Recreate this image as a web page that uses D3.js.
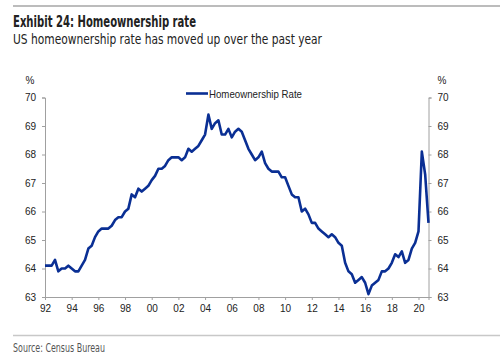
<!DOCTYPE html>
<html><head><meta charset="utf-8">
<script src="https://cdn.jsdelivr.net/npm/d3@7"></script>
<style>
body{margin:0;background:#fff;}
svg{display:block;}
.narrow{font-family:'Liberation Sans Narrow','Arial Narrow','DejaVu Sans Condensed',sans-serif;}
</style></head>
<body>
<svg id="c" width="500" height="357"></svg>
<script>
const startYear = 1992;
const rate = [
 64.1,64.1,64.1,64.3,
 63.9,64.0,64.0,64.1,
 64.0,63.9,63.9,64.1,
 64.3,64.7,64.8,65.1,
 65.3,65.4,65.4,65.4,
 65.5,65.7,65.8,65.8,
 66.0,66.1,66.6,66.5,
 66.8,66.7,66.8,66.9,
 67.1,67.25,67.5,67.5,
 67.6,67.8,67.9,67.9,
 67.9,67.8,67.9,68.2,
 68.1,68.2,68.3,68.5,
 68.7,69.4,68.9,69.1,
 69.2,68.7,68.7,68.9,
 68.6,68.8,68.9,68.8,
 68.5,68.2,68.0,67.8,
 67.9,68.1,67.7,67.5,
 67.4,67.4,67.4,67.2,
 67.2,66.9,66.6,66.5,
 66.5,66.0,66.1,65.9,
 65.6,65.6,65.4,65.3,
 65.2,65.1,65.2,65.1,
 64.9,64.8,64.2,63.9,
 63.8,63.5,63.6,63.7,
 63.5,63.1,63.4,63.5,
 63.6,63.9,63.9,64.0,
 64.2,64.5,64.4,64.6,
 64.2,64.3,64.7,64.9,
 65.3,68.1,67.3,65.6
];
const yTicks = [63,64,65,66,67,68,69,70];
const xTicks = [1992,1994,1996,1998,2000,2002,2004,2006,2008,2010,2012,2014,2016,2018,2020];
const seriesName = "Homeownership Rate";
const title = "Exhibit 24: Homeownership rate";
const subtitle = "US homeownership rate has moved up over the past year";
const source = "Source: Census Bureau";

const data = rate.map((v,i)=>({t: startYear + i/4, v}));

const svg = d3.select("#c");
const mLeft = 45, mRight = 428.5, mTop = 97.5, mBottom = 297;
const x = d3.scaleLinear().domain([startYear, startYear + (rate.length-1)/4]).range([mLeft, mRight]);
const y = d3.scaleLinear().domain([63,70]).range([mBottom, mTop]);

svg.append("line").attr("x1",13).attr("x2",500).attr("y1",6).attr("y2",6).attr("stroke","#a6a6a6").attr("stroke-width",1.5);
svg.append("line").attr("x1",13).attr("x2",500).attr("y1",335.5).attr("y2",335.5).attr("stroke","#c8c8c8").attr("stroke-width",1.5);

svg.append("text").attr("class","narrow").attr("x",13).attr("y",27).attr("font-size",15).attr("font-weight","bold").attr("fill","#222")
  .attr("textLength",183).attr("lengthAdjust","spacingAndGlyphs").text(title);
svg.append("text").attr("class","narrow").attr("x",13).attr("y",44).attr("font-size",14.5).attr("fill","#222")
  .attr("textLength",309).attr("lengthAdjust","spacingAndGlyphs").text(subtitle);
svg.append("text").attr("class","narrow").attr("x",13).attr("y",352).attr("font-size",11.5).attr("fill","#555")
  .attr("textLength",92).attr("lengthAdjust","spacingAndGlyphs").text(source);

const axL = d3.axisLeft(y).tickValues(yTicks).tickSize(3).tickPadding(6).tickFormat(d3.format("d"));
const axR = d3.axisRight(y).tickValues(yTicks).tickSize(3).tickPadding(6).tickFormat(d3.format("d"));
const axB = d3.axisBottom(x).tickValues(xTicks).tickSize(3).tickPadding(5).tickFormat(d=>String(d%100).padStart(2,"0"));

function style(g){
  g.select(".domain").attr("stroke","#a0a0a0");
  g.selectAll(".tick line").attr("stroke","#a0a0a0");
  g.selectAll(".tick text").attr("font-family","'Liberation Sans',Arial,sans-serif").attr("font-size",10).attr("fill","#222");
}
svg.append("g").attr("transform",`translate(${mLeft},0)`).call(axL).call(style);
svg.append("g").attr("transform",`translate(${mRight},0)`).call(axR).call(style);
svg.append("g").attr("transform",`translate(0,${mBottom})`).call(axB).call(style);

svg.append("text").attr("x",30).attr("y",84).attr("text-anchor","middle").attr("font-family","'Liberation Sans',Arial,sans-serif").attr("font-size",10).attr("fill","#222").text("%");
svg.append("text").attr("x",442).attr("y",84).attr("text-anchor","middle").attr("font-family","'Liberation Sans',Arial,sans-serif").attr("font-size",10).attr("fill","#222").text("%");

const line = d3.line().x(d=>x(d.t)).y(d=>y(d.v));
svg.append("path").datum(data).attr("d",line).attr("fill","none").attr("stroke","#0a2f94").attr("stroke-width",2.6).attr("stroke-linejoin","round");

svg.append("line").attr("x1",186).attr("x2",208).attr("y1",93.5).attr("y2",93.5).attr("stroke","#0a2f94").attr("stroke-width",2.6);
svg.append("text").attr("x",209).attr("y",97.5).attr("font-family","'Liberation Sans',Arial,sans-serif").attr("font-size",10.5).attr("fill","#222")
  .attr("textLength",93).attr("lengthAdjust","spacingAndGlyphs").text(seriesName);
</script>
</body></html>
